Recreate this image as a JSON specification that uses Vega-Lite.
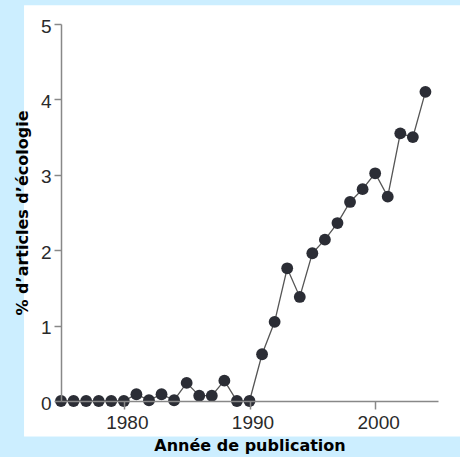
{
  "$schema": "https://vega.github.io/schema/vega-lite/v6.json",
  "width": 377,
  "height": 377,
  "autosize": {"type": "none"},
  "padding": {"left": 61, "top": 24, "right": 22, "bottom": 56},
  "background": "#cceeff",
  "config": {"view": {"stroke": null}},
  "data": {
    "values": [
      {"annee": 1975, "pct": 0},
      {"annee": 1976, "pct": 0},
      {"annee": 1977, "pct": 0},
      {"annee": 1978, "pct": 0},
      {"annee": 1979, "pct": 0},
      {"annee": 1980, "pct": 0},
      {"annee": 1981, "pct": 0.09},
      {"annee": 1982, "pct": 0.01},
      {"annee": 1983, "pct": 0.09},
      {"annee": 1984, "pct": 0.01},
      {"annee": 1985, "pct": 0.24},
      {"annee": 1986, "pct": 0.07},
      {"annee": 1987, "pct": 0.07},
      {"annee": 1988, "pct": 0.27},
      {"annee": 1989, "pct": 0},
      {"annee": 1990, "pct": 0},
      {"annee": 1991, "pct": 0.62},
      {"annee": 1992, "pct": 1.05},
      {"annee": 1993, "pct": 1.76},
      {"annee": 1994, "pct": 1.38},
      {"annee": 1995, "pct": 1.96},
      {"annee": 1996, "pct": 2.14},
      {"annee": 1997, "pct": 2.36},
      {"annee": 1998, "pct": 2.64},
      {"annee": 1999, "pct": 2.81},
      {"annee": 2000, "pct": 3.02},
      {"annee": 2001, "pct": 2.71},
      {"annee": 2002, "pct": 3.55},
      {"annee": 2003, "pct": 3.5},
      {"annee": 2004, "pct": 4.1}
    ]
  },
  "layer": [
    {
      "data": {"values": [{}]},
      "mark": {"type": "rect", "fill": "white", "stroke": null},
      "encoding": {
        "x": {
          "datum": 1972.06, "type": "quantitative",
          "scale": {"domain": [1975, 2005]},
          "title": "Année de publication",
          "axis": {
            "values": [1980, 1990, 2000],
            "format": "d",
            "grid": false,
            "zindex": 1,
            "domainColor": "#888888", "domainWidth": 1.5,
            "tickColor": "#888888", "tickWidth": 1.5, "tickSize": 8,
            "labelFont": "Liberation Sans", "labelFontSize": 19, "labelColor": "#2a2a2a",
            "labelPadding": 4, "labelOffset": 3,
            "titleFont": "DejaVu Sans", "titleFontSize": 16, "titleFontWeight": "bold", "titleColor": "#000000",
            "titlePadding": 5
          }
        },
        "x2": {"datum": 2012},
        "y": {
          "datum": -0.47, "type": "quantitative",
          "scale": {"domain": [0, 5]},
          "title": "% d’articles d’écologie",
          "axis": {
            "values": [0, 1, 2, 3, 4, 5],
            "format": "d",
            "grid": false,
            "zindex": 1,
            "domainColor": "#888888", "domainWidth": 1.5,
            "tickColor": "#888888", "tickWidth": 1.5, "tickSize": 7,
            "labelFont": "Liberation Sans", "labelFontSize": 19, "labelColor": "#2a2a2a",
            "labelPadding": 3, "labelOffset": 2,
            "titleFont": "DejaVu Sans", "titleFontSize": 16, "titleFontWeight": "bold", "titleColor": "#000000",
            "titlePadding": 10
          }
        },
        "y2": {"datum": 5.25}
      }
    },
    {
      "mark": {"type": "line", "stroke": "#555555", "strokeWidth": 1.3},
      "encoding": {
        "x": {"field": "annee", "type": "quantitative", "scale": {"domain": [1975, 2005]}, "title": "Année de publication"},
        "y": {"field": "pct", "type": "quantitative", "scale": {"domain": [0, 5]}, "title": "% d’articles d’écologie"}
      }
    },
    {
      "mark": {"type": "point", "filled": true, "size": 140, "color": "#2b2d35", "opacity": 1},
      "encoding": {
        "x": {"field": "annee", "type": "quantitative", "scale": {"domain": [1975, 2005]}, "title": "Année de publication"},
        "y": {"field": "pct", "type": "quantitative", "scale": {"domain": [0, 5]}, "title": "% d’articles d’écologie"}
      }
    }
  ]
}
